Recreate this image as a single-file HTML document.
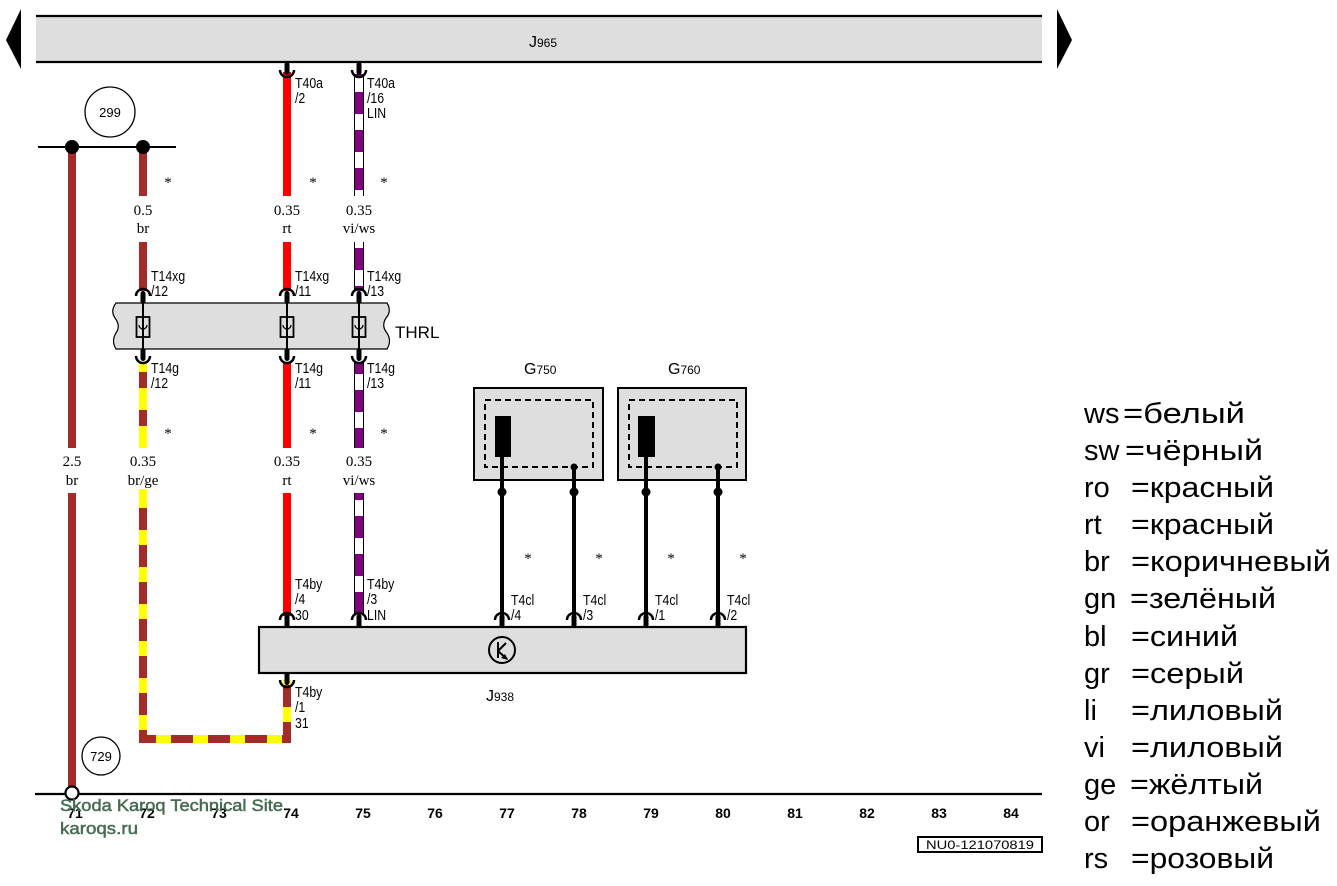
<!DOCTYPE html>
<html><head><meta charset="utf-8"><style>
html,body{margin:0;padding:0;background:#fff;}
svg{display:block;}
.s{font-family:"Liberation Sans",Arial,sans-serif;}
.sf{font-family:"Liberation Serif","Times New Roman",serif;font-size:15px;}
.lb{font-family:"Liberation Sans",Arial,sans-serif;font-size:15px;}
.ax{font-family:"Liberation Sans",Arial,sans-serif;font-size:14px;font-weight:bold;}
.lg{font-family:"Liberation Sans","DejaVu Sans",sans-serif;font-size:29px;fill:#000;}
</style></head><body>
<svg width="1337" height="886" viewBox="0 0 1337 886" xmlns="http://www.w3.org/2000/svg">
<rect width="1337" height="886" fill="#fff"/>

<!-- J965 bar -->
<rect x="36" y="16" width="1006" height="46" fill="#dedede"/>
<line x1="36" y1="16" x2="1042" y2="16" stroke="#000" stroke-width="2.2"/>
<line x1="36" y1="62" x2="1042" y2="62" stroke="#000" stroke-width="2.2"/>
<polygon points="6,40 21,9 21,69" fill="#000"/>
<polygon points="1072,40 1057,9 1057,69" fill="#000"/>
<text class="s" x="529" y="47" font-size="16">J<tspan font-size="12">965</tspan></text>

<!-- ground bus & 299 -->
<circle cx="110" cy="112" r="25" fill="none" stroke="#000" stroke-width="1.3"/>
<text class="s" x="110" y="117" font-size="13" text-anchor="middle">299</text>
<line x1="38" y1="147" x2="176" y2="147" stroke="#000" stroke-width="2"/>

<!-- col 71 brown -->
<line x1="72" y1="147" x2="72" y2="448" stroke="#a52a2a" stroke-width="8"/>
<line x1="72" y1="493" x2="72" y2="787" stroke="#a52a2a" stroke-width="8"/>
<circle cx="72" cy="147" r="7" fill="#000"/>
<text class="sf" x="72" y="466" text-anchor="middle">2.5</text>
<text class="sf" x="72" y="485" text-anchor="middle">br</text>

<!-- col 72 -->
<line x1="143" y1="147" x2="143" y2="196" stroke="#a52a2a" stroke-width="8"/>
<line x1="143" y1="242" x2="143" y2="291" stroke="#a52a2a" stroke-width="8"/>
<circle cx="143" cy="147" r="7" fill="#000"/>
<text class="sf" x="143" y="215" text-anchor="middle">0.5</text>
<text class="sf" x="143" y="233" text-anchor="middle">br</text>
<!-- br/ge -->
<line x1="143" y1="362" x2="143" y2="448" stroke="#ffff00" stroke-width="8"/>
<line x1="143" y1="362" x2="143" y2="448" stroke="#a52a2a" stroke-width="8" stroke-dasharray="16 22" stroke-dashoffset="-10"/>
<path d="M143,493 V739 H287 V684" fill="none" stroke="#ffff00" stroke-width="8" stroke-linejoin="miter" stroke-linecap="square"/>
<path d="M143,493 V739 H287 V684" fill="none" stroke="#a52a2a" stroke-width="8" stroke-dasharray="22 15" stroke-dashoffset="-15" stroke-linejoin="miter"/>
<text class="sf" x="143" y="466" text-anchor="middle">0.35</text>
<text class="sf" x="143" y="485" text-anchor="middle">br/ge</text>

<!-- col 74 red -->
<line x1="287" y1="72" x2="287" y2="196" stroke="#ff0000" stroke-width="8"/>
<line x1="287" y1="242" x2="287" y2="291" stroke="#ff0000" stroke-width="8"/>
<line x1="287" y1="362" x2="287" y2="448" stroke="#ff0000" stroke-width="8"/>
<line x1="287" y1="493" x2="287" y2="616" stroke="#ff0000" stroke-width="8"/>
<text class="sf" x="287" y="215" text-anchor="middle">0.35</text>
<text class="sf" x="287" y="233" text-anchor="middle">rt</text>
<text class="sf" x="287" y="466" text-anchor="middle">0.35</text>
<text class="sf" x="287" y="485" text-anchor="middle">rt</text>

<!-- col 75 vi/ws -->
<g>
<line x1="359" y1="74" x2="359" y2="196" stroke="#000" stroke-width="10"/>
<line x1="359" y1="74" x2="359" y2="196" stroke="#fff" stroke-width="8"/>
<line x1="359" y1="74" x2="359" y2="196" stroke="#800080" stroke-width="8" stroke-dasharray="22 16" stroke-dashoffset="-18"/>
<line x1="359" y1="242" x2="359" y2="291" stroke="#000" stroke-width="10"/>
<line x1="359" y1="242" x2="359" y2="291" stroke="#fff" stroke-width="8"/>
<line x1="359" y1="242" x2="359" y2="291" stroke="#800080" stroke-width="8" stroke-dasharray="22 16" stroke-dashoffset="-6"/>
<line x1="359" y1="362" x2="359" y2="448" stroke="#000" stroke-width="10"/>
<line x1="359" y1="362" x2="359" y2="448" stroke="#fff" stroke-width="8"/>
<line x1="359" y1="362" x2="359" y2="448" stroke="#800080" stroke-width="8" stroke-dasharray="22 16" stroke-dashoffset="-28"/>
<line x1="359" y1="493" x2="359" y2="616" stroke="#000" stroke-width="10"/>
<line x1="359" y1="493" x2="359" y2="616" stroke="#fff" stroke-width="8"/>
<line x1="359" y1="493" x2="359" y2="616" stroke="#800080" stroke-width="8" stroke-dasharray="22 16" stroke-dashoffset="-23"/>
</g>
<text class="sf" x="359" y="215" text-anchor="middle">0.35</text>
<text class="sf" x="359" y="233" text-anchor="middle">vi/ws</text>
<text class="sf" x="359" y="466" text-anchor="middle">0.35</text>
<text class="sf" x="359" y="485" text-anchor="middle">vi/ws</text>

<!-- stars -->
<g class="sf" font-size="11">
<text x="168" y="187" text-anchor="middle">*</text>
<text x="313" y="187" text-anchor="middle">*</text>
<text x="384" y="187" text-anchor="middle">*</text>
<text x="168" y="438" text-anchor="middle">*</text>
<text x="313" y="438" text-anchor="middle">*</text>
<text x="384" y="438" text-anchor="middle">*</text>
<text x="528" y="563" text-anchor="middle">*</text>
<text x="599" y="563" text-anchor="middle">*</text>
<text x="671" y="563" text-anchor="middle">*</text>
<text x="743" y="563" text-anchor="middle">*</text>
</g>

<!-- J965 connectors -->
<g fill="none" stroke="#000" stroke-width="2.5">
<path d="M280,70 A7,7 0 0 0 294,70"/>
<path d="M352,70 A7,7 0 0 0 366,70"/>
</g>
<rect x="284.5" y="62" width="5" height="13" rx="2.5" fill="#000"/>
<rect x="356.5" y="62" width="5" height="13" rx="2.5" fill="#000"/>

<!-- THRL -->
<path d="M116,303 L387,303 Q392,311 386,318 Q381,326 387,333 Q392,341 387,349 L116,349 Q111,341 116,333 Q121,326 115,318 Q110,311 116,303 Z" fill="#dedede" stroke="#000" stroke-width="1.2"/>
<text class="s" x="395" y="338" font-size="17">THRL</text>
<g stroke="#000" fill="none">
<line x1="143" y1="293" x2="143" y2="359" stroke-width="2"/>
<line x1="287" y1="293" x2="287" y2="359" stroke-width="2"/>
<line x1="359" y1="293" x2="359" y2="359" stroke-width="2"/>
<rect x="136.5" y="317" width="13" height="20" stroke-width="1.8"/>
<rect x="280.5" y="317" width="13" height="20" stroke-width="1.8"/>
<rect x="352.5" y="317" width="13" height="20" stroke-width="1.8"/>
<path d="M139,325 A4,4 0 0 0 147,325" stroke-width="1.3"/>
<path d="M283,325 A4,4 0 0 0 291,325" stroke-width="1.3"/>
<path d="M355,325 A4,4 0 0 0 363,325" stroke-width="1.3"/>
<g stroke-width="2.5">
<path d="M136,296 A7,7 0 0 1 150,296"/>
<path d="M280,296 A7,7 0 0 1 294,296"/>
<path d="M352,296 A7,7 0 0 1 366,296"/>
<path d="M136,356 A7,7 0 0 0 150,356"/>
<path d="M280,356 A7,7 0 0 0 294,356"/>
<path d="M352,356 A7,7 0 0 0 366,356"/>
</g>
</g>
<g fill="#000">
<rect x="140.5" y="291" width="5" height="13" rx="2.5"/>
<rect x="284.5" y="291" width="5" height="13" rx="2.5"/>
<rect x="356.5" y="291" width="5" height="13" rx="2.5"/>
<rect x="140.5" y="348" width="5" height="13" rx="2.5"/>
<rect x="284.5" y="348" width="5" height="13" rx="2.5"/>
<rect x="356.5" y="348" width="5" height="13" rx="2.5"/>
</g>

<!-- G750 / G760 -->
<text class="s" x="524" y="374" font-size="16">G<tspan font-size="12">750</tspan></text>
<text class="s" x="668" y="374" font-size="16">G<tspan font-size="12">760</tspan></text>
<rect x="474" y="388" width="129" height="92" fill="#dedede" stroke="#000" stroke-width="2"/>
<rect x="618" y="388" width="128" height="92" fill="#dedede" stroke="#000" stroke-width="2"/>
<rect x="485" y="400" width="108" height="67" fill="none" stroke="#000" stroke-width="2" stroke-dasharray="6 4"/>
<rect x="629" y="400" width="108" height="67" fill="none" stroke="#000" stroke-width="2" stroke-dasharray="6 4"/>
<rect x="495" y="416" width="16" height="41" fill="#000"/>
<rect x="638" y="416" width="17" height="41" fill="#000"/>
<g stroke="#000" stroke-width="4">
<line x1="502" y1="456" x2="502" y2="616"/>
<line x1="574" y1="467" x2="574" y2="616"/>
<line x1="646" y1="456" x2="646" y2="616"/>
<line x1="718" y1="467" x2="718" y2="616"/>
</g>
<g fill="#000">
<circle cx="574" cy="467" r="3.5"/>
<circle cx="718" cy="467" r="3.5"/>
<circle cx="502" cy="492" r="4.5"/>
<circle cx="574" cy="492" r="4.5"/>
<circle cx="646" cy="492" r="4.5"/>
<circle cx="718" cy="492" r="4.5"/>
</g>

<!-- J938 -->
<rect x="259" y="627" width="487" height="46" fill="#dedede" stroke="#000" stroke-width="2.2"/>
<circle cx="502" cy="650" r="13" fill="none" stroke="#000" stroke-width="2"/>
<g stroke="#000" stroke-width="2" fill="none">
<line x1="498" y1="642" x2="498" y2="658"/>
<line x1="498" y1="651" x2="506" y2="643"/>
<line x1="498" y1="651" x2="507" y2="659"/>
</g>
<polygon points="508,660 501,658 505,654" fill="#000"/>
<text class="s" x="486" y="701" font-size="16">J<tspan font-size="12">938</tspan></text>
<g fill="none" stroke="#000" stroke-width="2.5">
<path d="M280,620 A7,7 0 0 1 294,620"/>
<path d="M352,620 A7,7 0 0 1 366,620"/>
<path d="M495,620 A7,7 0 0 1 509,620"/>
<path d="M567,620 A7,7 0 0 1 581,620"/>
<path d="M639,620 A7,7 0 0 1 653,620"/>
<path d="M711,620 A7,7 0 0 1 725,620"/>
<path d="M280,680 A7,7 0 0 0 294,680"/>
</g>
<g fill="#000">
<rect x="284.5" y="614" width="5" height="14" rx="2.5"/>
<rect x="356.5" y="614" width="5" height="14" rx="2.5"/>
<rect x="499.5" y="614" width="5" height="14" rx="2.5"/>
<rect x="571.5" y="614" width="5" height="14" rx="2.5"/>
<rect x="643.5" y="614" width="5" height="14" rx="2.5"/>
<rect x="715.5" y="614" width="5" height="14" rx="2.5"/>
<rect x="284.5" y="672" width="5" height="13" rx="2.5"/>
</g>

<!-- connector labels (narrow) -->
<g class="lb">
<text transform="translate(295,88) scale(0.82,1)">T40a</text>
<text transform="translate(295,103) scale(0.82,1)">/2</text>
<text transform="translate(367,88) scale(0.82,1)">T40a</text>
<text transform="translate(367,103) scale(0.82,1)">/16</text>
<text transform="translate(367,118) scale(0.82,1)">LIN</text>

<text transform="translate(151,281) scale(0.82,1)">T14xg</text>
<text transform="translate(151,296) scale(0.82,1)">/12</text>
<text transform="translate(295,281) scale(0.82,1)">T14xg</text>
<text transform="translate(295,296) scale(0.82,1)">/11</text>
<text transform="translate(367,281) scale(0.82,1)">T14xg</text>
<text transform="translate(367,296) scale(0.82,1)">/13</text>

<text transform="translate(151,373) scale(0.82,1)">T14g</text>
<text transform="translate(151,388) scale(0.82,1)">/12</text>
<text transform="translate(295,373) scale(0.82,1)">T14g</text>
<text transform="translate(295,388) scale(0.82,1)">/11</text>
<text transform="translate(367,373) scale(0.82,1)">T14g</text>
<text transform="translate(367,388) scale(0.82,1)">/13</text>

<text transform="translate(295,589) scale(0.82,1)">T4by</text>
<text transform="translate(295,604) scale(0.82,1)">/4</text>
<text transform="translate(295,620) scale(0.82,1)">30</text>
<text transform="translate(367,589) scale(0.82,1)">T4by</text>
<text transform="translate(367,604) scale(0.82,1)">/3</text>
<text transform="translate(367,620) scale(0.82,1)">LIN</text>

<text transform="translate(511,605) scale(0.82,1)">T4cl</text>
<text transform="translate(511,620) scale(0.82,1)">/4</text>
<text transform="translate(583,605) scale(0.82,1)">T4cl</text>
<text transform="translate(583,620) scale(0.82,1)">/3</text>
<text transform="translate(655,605) scale(0.82,1)">T4cl</text>
<text transform="translate(655,620) scale(0.82,1)">/1</text>
<text transform="translate(727,605) scale(0.82,1)">T4cl</text>
<text transform="translate(727,620) scale(0.82,1)">/2</text>

<text transform="translate(295,697) scale(0.82,1)">T4by</text>
<text transform="translate(295,712) scale(0.82,1)">/1</text>
<text transform="translate(295,728) scale(0.82,1)">31</text>
</g>

<!-- 729 -->
<circle cx="101" cy="756" r="19" fill="none" stroke="#000" stroke-width="1.3"/>
<text class="s" x="101" y="761" font-size="13" text-anchor="middle">729</text>

<!-- axis -->
<line x1="35" y1="794" x2="1042" y2="794" stroke="#000" stroke-width="2.2"/>
<circle cx="72" cy="793" r="6.5" fill="#fff" stroke="#000" stroke-width="2.2"/>
<g class="ax" text-anchor="middle">
<text x="75" y="818">71</text><text x="147" y="818">72</text><text x="219" y="818">73</text>
<text x="291" y="818">74</text><text x="363" y="818">75</text><text x="435" y="818">76</text>
<text x="507" y="818">77</text><text x="579" y="818">78</text><text x="651" y="818">79</text>
<text x="723" y="818">80</text><text x="795" y="818">81</text><text x="867" y="818">82</text>
<text x="939" y="818">83</text><text x="1011" y="818">84</text>
</g>
<rect x="918" y="837" width="124" height="15" fill="#fff" stroke="#000" stroke-width="2"/>
<text class="s" x="980" y="849" font-size="12" text-anchor="middle" textLength="108" lengthAdjust="spacingAndGlyphs">NU0-121070819</text>

<!-- watermark -->
<g class="s" font-size="17" fill="#466c51" stroke="#466c51" stroke-width="0.5">
<text x="60" y="811" textLength="223" lengthAdjust="spacingAndGlyphs">Skoda Karoq Technical Site</text>
<text x="60" y="834" textLength="78" lengthAdjust="spacingAndGlyphs">karoqs.ru</text>
</g>

<!-- legend -->
<g class="lg">
<text x="1084" y="423">ws</text><text x="1123" y="423" textLength="122" lengthAdjust="spacingAndGlyphs">=белый</text>
<text x="1084" y="460">sw</text><text x="1125" y="460" textLength="138" lengthAdjust="spacingAndGlyphs">=чёрный</text>
<text x="1084" y="497">ro</text><text x="1131" y="497" textLength="143" lengthAdjust="spacingAndGlyphs">=красный</text>
<text x="1084" y="534">rt</text><text x="1131" y="534" textLength="143" lengthAdjust="spacingAndGlyphs">=красный</text>
<text x="1084" y="571">br</text><text x="1131" y="571" textLength="200" lengthAdjust="spacingAndGlyphs">=коричневый</text>
<text x="1084" y="608">gn</text><text x="1130" y="608" textLength="146" lengthAdjust="spacingAndGlyphs">=зелёный</text>
<text x="1084" y="646">bl</text><text x="1131" y="646" textLength="107" lengthAdjust="spacingAndGlyphs">=синий</text>
<text x="1084" y="683">gr</text><text x="1131" y="683" textLength="113" lengthAdjust="spacingAndGlyphs">=серый</text>
<text x="1084" y="720">li</text><text x="1131" y="720" textLength="152" lengthAdjust="spacingAndGlyphs">=лиловый</text>
<text x="1084" y="757">vi</text><text x="1131" y="757" textLength="152" lengthAdjust="spacingAndGlyphs">=лиловый</text>
<text x="1084" y="794">ge</text><text x="1130" y="794" textLength="133" lengthAdjust="spacingAndGlyphs">=жёлтый</text>
<text x="1084" y="831">or</text><text x="1131" y="831" textLength="190" lengthAdjust="spacingAndGlyphs">=оранжевый</text>
<text x="1084" y="868">rs</text><text x="1131" y="868" textLength="143" lengthAdjust="spacingAndGlyphs">=розовый</text>
</g>
</svg>
</body></html>
